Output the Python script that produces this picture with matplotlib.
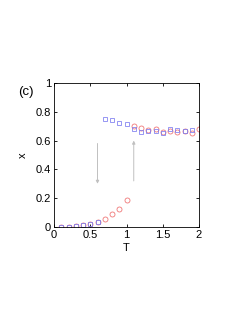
import matplotlib
matplotlib.use("Agg")
import matplotlib.pyplot as plt
import numpy as np

plt.rcParams['font.family'] = ['Liberation Sans', 'DejaVu Sans']

# heating branch (red circles)
T_red = [0.1, 0.2, 0.3, 0.4, 0.5, 0.6, 0.7, 0.8, 0.9, 1.0,
         1.1, 1.2, 1.3, 1.4, 1.5, 1.6, 1.7, 1.8, 1.9, 2.0]
x_red = [0.002, 0.002, 0.009, 0.014, 0.024, 0.038, 0.056, 0.087, 0.125, 0.186,
         0.70, 0.69, 0.671, 0.678, 0.657, 0.664, 0.657, 0.669, 0.653, 0.678]

# cooling branch (blue squares)
T_blue = [0.1, 0.2, 0.3, 0.4, 0.5, 0.6, 0.7, 0.8, 0.9, 1.0,
          1.1, 1.2, 1.3, 1.4, 1.5, 1.6, 1.7, 1.8, 1.9]
x_blue = [0.002, 0.002, 0.009, 0.014, 0.024, 0.038, 0.752, 0.745, 0.724, 0.713,
          0.683, 0.662, 0.667, 0.664, 0.65, 0.678, 0.671, 0.669, 0.673]

# hysteresis arrows: (T, start, end)
arrows = [(0.6, 0.58, 0.30), (1.1, 0.32, 0.60)]

fig = plt.figure(figsize=(2.45, 3.17), dpi=100)
ax = fig.add_axes([54 / 245, 1 - 227 / 317, 145 / 245, 144 / 317])

ax.plot(T_red, x_red, 'o', ms=3.6, mfc='none', mec='#f07878', mew=0.6)
ax.plot(T_blue, x_blue, 's', ms=3.4, mfc='none', mec='#7878f0', mew=0.6, alpha=0.9)

for t, y0, y1 in arrows:
    ax.annotate('', xy=(t, y1), xytext=(t, y0),
                arrowprops=dict(arrowstyle='-|>', color='#c0c0c0', lw=0.7,
                                mutation_scale=4.5, shrinkA=0, shrinkB=0))

ax.set_xlim(0, 2)
ax.set_ylim(0, 1)
ax.set_xticks([0, 0.5, 1, 1.5, 2])
ax.set_xticklabels(['0', '0.5', '1', '1.5', '2'])
ax.set_yticks([0, 0.2, 0.4, 0.6, 0.8, 1])
ax.set_yticklabels(['0', '0.2', '0.4', '0.6', '0.8', '1'])
ax.tick_params(direction='in', top=True, right=True, length=2.5, width=0.6,
               labelsize=8, pad=2)
for s in ax.spines.values():
    s.set_linewidth(0.6)

ax.set_xlabel('T', fontsize=8, labelpad=2)
ax.set_ylabel('x', fontsize=8, labelpad=6)
ax.text(-0.25, 0.94, '(c)', transform=ax.transAxes, fontsize=9.5,
        ha='left', va='center')

fig.savefig('out.png', dpi=100)
